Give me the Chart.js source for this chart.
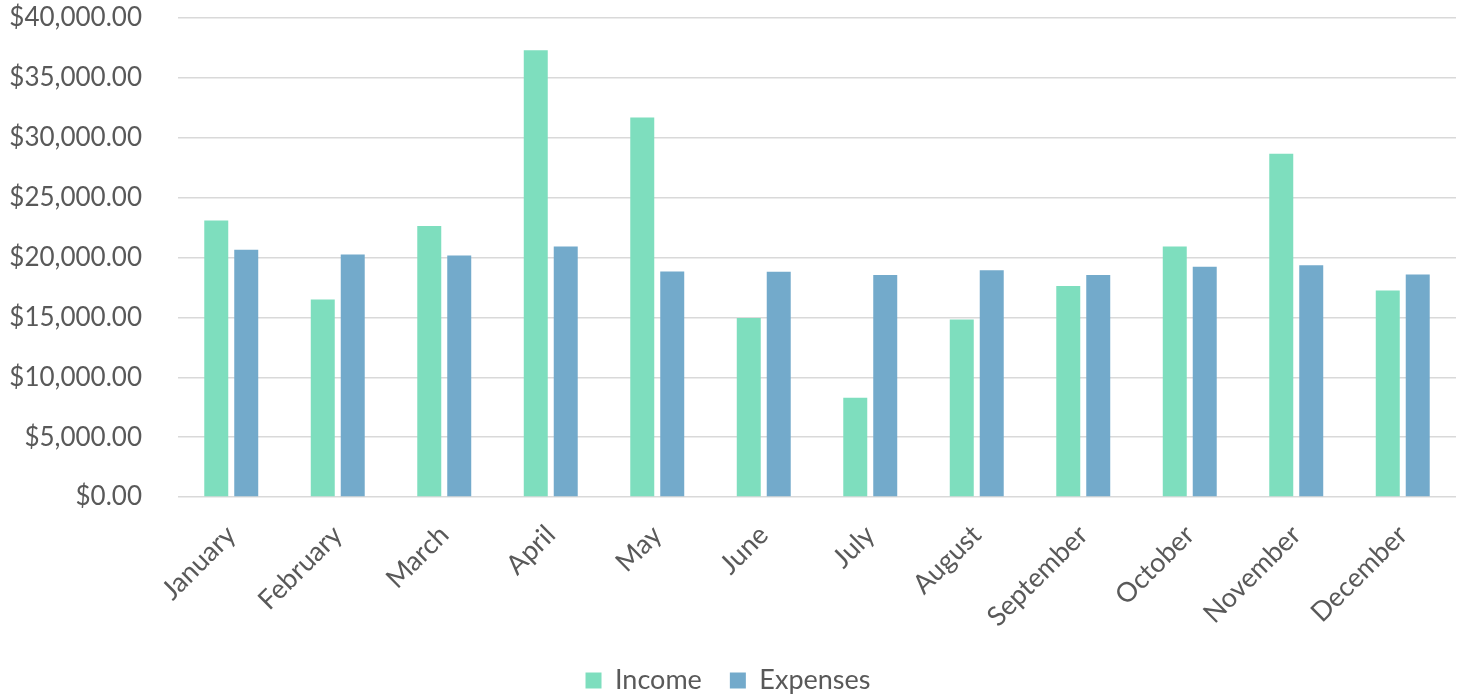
<!DOCTYPE html>
<html>
<head>
<meta charset="utf-8">
<script src="https://cdn.jsdelivr.net/npm/chart.js@4"></script>
<style>
  html, body { margin: 0; padding: 0; background: #fff; overflow: hidden; }
  #wrap { width: 1460px; height: 694px; }
</style>
</head>
<body>
<div id="wrap"><canvas id="finChart"></canvas></div>
<script>
// monthly income vs expenses
const months = ['January', 'February', 'March', 'April', 'May', 'June', 'July',
  'August', 'September', 'October', 'November', 'December'];
const income = [23080, 16500, 22640, 37300, 31690, 14940, 8280, 14830, 17610, 20920, 28670, 17250];
const expenses = [20640, 20250, 20170, 20920, 18830, 18800, 18530, 18940, 18530, 19220, 19360, 18580];
const yTicks = [0, 5000, 10000, 15000, 20000, 25000, 30000, 35000, 40000];

const textColor = '#595959';

function money(v) {
  return '$' + v.toLocaleString('en-US', { minimumFractionDigits: 2, maximumFractionDigits: 2 });
}

function initChart() {
  const ctx = document.getElementById('finChart');
  if (!ctx) return;

  new Chart(ctx, {
    type: 'bar',
    data: {
      labels: months,
      datasets: [
        { label: 'Income', data: income, backgroundColor: '#7EDEBE',
          categoryPercentage: 0.563, barPercentage: 0.8 },
        { label: 'Expenses', data: expenses, backgroundColor: '#73AACB',
          categoryPercentage: 0.563, barPercentage: 0.8 }
      ]
    },
    options: {
      responsive: true,
      maintainAspectRatio: false,
      animation: false,
      layout: { padding: { top: 0, right: 4, bottom: -10, left: 0 } },
      plugins: {
        legend: {
          position: 'bottom',
          labels: { color: textColor, font: { family: 'Lato', size: 27 },
            boxWidth: 16, boxHeight: 16, padding: 28 }
        },
        tooltip: { callbacks: { label: c => `${c.dataset.label}: ${money(c.raw)}` } }
      },
      scales: {
        x: {
          grid: { display: false },
          border: { display: false },
          ticks: { color: textColor, font: { family: 'Lato', size: 27 },
            minRotation: 45, maxRotation: 45, padding: 14 },
          afterFit: axis => { axis.height = 142; }
        },
        y: {
          min: 0,
          max: 40000,
          afterBuildTicks: axis => { axis.ticks = yTicks.map(v => ({ value: v })); },
          grid: { color: '#D9D9D9', lineWidth: 1.5, drawTicks: false },
          border: { display: false },
          ticks: { color: textColor, font: { family: 'Lato', size: 26 }, padding: 36,
            callback: v => money(v) },
          afterFit: axis => {
            axis.width = 178;
            axis.paddingTop = 18;
            axis.paddingBottom = 0;
          }
        }
      }
    }
  });
}

initChart();
</script>
</body>
</html>
